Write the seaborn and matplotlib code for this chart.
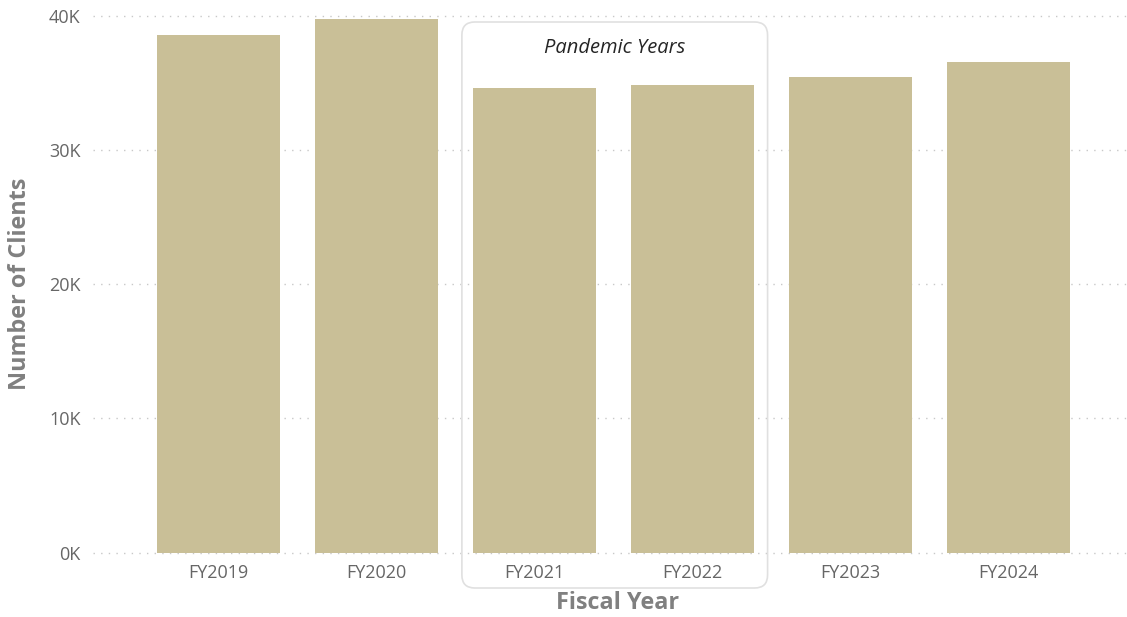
import matplotlib
matplotlib.use("Agg")
import matplotlib.pyplot as plt
from matplotlib.patches import FancyBboxPatch
from matplotlib.ticker import FuncFormatter
import seaborn as sns
import pandas as pd

# Clients served per fiscal year
fiscal_years = ["FY2019", "FY2020", "FY2021", "FY2022", "FY2023", "FY2024"]
clients = [38600, 39780, 34640, 34860, 35460, 36580]
pandemic_years = ["FY2021", "FY2022"]

sns.set_theme(style="white")
plt.rcParams["font.family"] = ["Open Sans", "DejaVu Sans"]

df = pd.DataFrame({"Fiscal Year": fiscal_years, "Clients": clients})

fig = plt.figure(figsize=(11.27, 6.17), dpi=100)
ax = fig.add_axes([0.0825, 0.1045, 0.9175, 0.8695])

sns.barplot(data=df, x="Fiscal Year", y="Clients", color="#C9BF97",
            saturation=1, width=0.78, linewidth=0, edgecolor="none",
            ax=ax, zorder=2)

ax.set_ylim(0, 40000)
ax.set_xlim(-0.795, 5.75)
ax.set_yticks([0, 10000, 20000, 30000, 40000])
ax.yaxis.set_major_formatter(FuncFormatter(lambda v, _: f"{int(v / 1000)}K"))

ax.grid(axis="y", color="#C8C8C8", linestyle=(0, (1, 4.5)), linewidth=1.0, zorder=0)
ax.set_axisbelow(True)
for gl in ax.get_ygridlines():
    gl.set_clip_on(False)
for s in ax.spines.values():
    s.set_visible(False)

ax.tick_params(axis="both", length=0, labelsize=13, labelcolor="#666666")
ax.tick_params(axis="y", pad=9)
ax.tick_params(axis="x", pad=8)

ax.set_xlabel("Fiscal Year", fontsize=16.8, fontweight="bold", color="#808080")
ax.set_ylabel("Number of Clients", fontsize=16.8, fontweight="bold", color="#808080", labelpad=12)
ax.xaxis.label.set_va("center")
ax.xaxis.set_label_coords(0.507, -0.094)

# Rounded frame around the pandemic years, spanning into the tick-label area
i0 = fiscal_years.index(pandemic_years[0])
i1 = fiscal_years.index(pandemic_years[-1])
x_left = i0 - 0.39 - 0.07
x_right = i1 + 0.39 + 0.085
disp_l = ax.transData.transform((x_left, 0))[0]
disp_r = ax.transData.transform((x_right, 0))[0]
W, H = fig.bbox.width, fig.bbox.height
fx0, fx1 = disp_l / W, disp_r / W
fy0, fy1 = 1 - 588 / H, 1 - 22 / H
box = FancyBboxPatch((fx0, fy0), fx1 - fx0, fy1 - fy0,
                     boxstyle="round,pad=0,rounding_size=%f" % (13 / W),
                     transform=fig.transFigure, facecolor="none",
                     edgecolor="#E0E0E0", linewidth=1.2, zorder=5,
                     mutation_aspect=W / H)
fig.add_artist(box)
fig.text((fx0 + fx1) / 2, 1 - 48 / H, "Pandemic Years", ha="center", va="center",
         fontsize=14.5, style="italic", color="#252525")

fig.savefig("out.png", dpi=100)
